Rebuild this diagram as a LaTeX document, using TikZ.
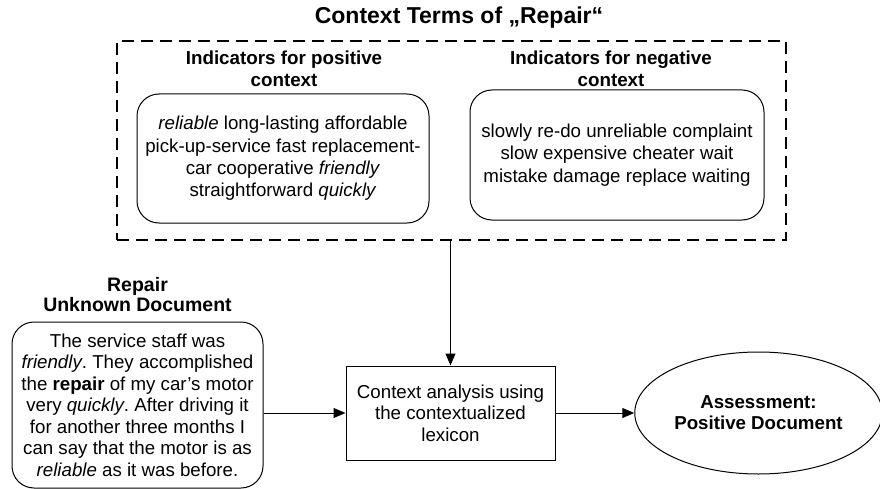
\documentclass[tikz,border=0pt]{standalone}
\usepackage{fontspec}
\setmainfont{Liberation Sans}
\frenchspacing
\usetikzlibrary{positioning}
\usetikzlibrary{shapes.geometric,arrows.meta}
\tikzset{
  termbox/.style={draw, line width=1pt, rounded corners=22pt, align=center,
    font=\fontsize{18.7}{22.3}\selectfont},
  heading/.style={align=center, font=\bfseries\fontsize{18.8}{21.5}\selectfont},
  flow/.style={line width=1pt, -{Triangle[length=12pt,width=10pt]}}
}

\begin{document}
\begin{tikzpicture}[x=1pt, y=-1pt]
  \useasboundingbox (0,0) rectangle (880,489);

  % context terms
  \node [font=\bfseries\fontsize{23}{24}\selectfont] (title) at (459,18) {Context Terms of „Repair“};
  \node [draw, line width=1.4pt, dash pattern=on 12pt off 7pt,
         minimum width=669pt, minimum height=199pt] (ctx) at (451.5,140.5) {};

  \node [termbox, minimum width=292pt, minimum height=129pt] (pos) at (283,158.5)
    {\textit{reliable} long-lasting affordable\\
     pick-up-service fast replacement-\\
     car cooperative \textit{friendly}\\
     straightforward \textit{quickly}};
  \node [heading] (poshead) at (284,69) {Indicators for positive\\context};

  \node [termbox, minimum width=294pt, minimum height=130pt] (neg) at (617,155)
    {slowly re-do unreliable complaint\\
     slow expensive cheater wait\\
     mistake damage replace waiting};
  \node [heading] (neghead) at (611,69) {Indicators for negative\\context};

  % document and analysis
  \node [heading, font=\bfseries\fontsize{19.5}{20}\selectfont] (dochead) at (137.5,295) {Repair\\Unknown Document};
  \node [termbox, font=\fontsize{18.7}{21.5}\selectfont,
         minimum width=251pt, minimum height=166pt] (doc) at (137.5,405)
    {The service staff was\\
     \textit{friendly}. They accomplished\\
     the \textbf{repair} of my car’s motor\\
     very \textit{quickly}. After driving it\\
     for another three months I\\
     can say that the motor is as\\
     \textit{reliable} as it was before.};

  \node [draw, line width=1pt, align=center, font=\fontsize{18.7}{21.5}\selectfont,
         minimum width=209pt, minimum height=94pt] (ana) at (450.5,413)
    {Context analysis using\\the contextualized\\lexicon};

  \node [ellipse, draw, line width=1pt, align=center, font=\bfseries\fontsize{18.7}{21}\selectfont,
         minimum width=242pt, minimum height=122pt] (result) at (758.5,413)
    {Assessment:\\Positive Document};

  \draw [flow] (ctx.south -| ana.north) -- (ana.north);
  \draw [flow] (doc.east |- ana.west) -- (ana.west);
  \draw [flow] (ana.east) -- (result.west);
\end{tikzpicture}
\end{document}
